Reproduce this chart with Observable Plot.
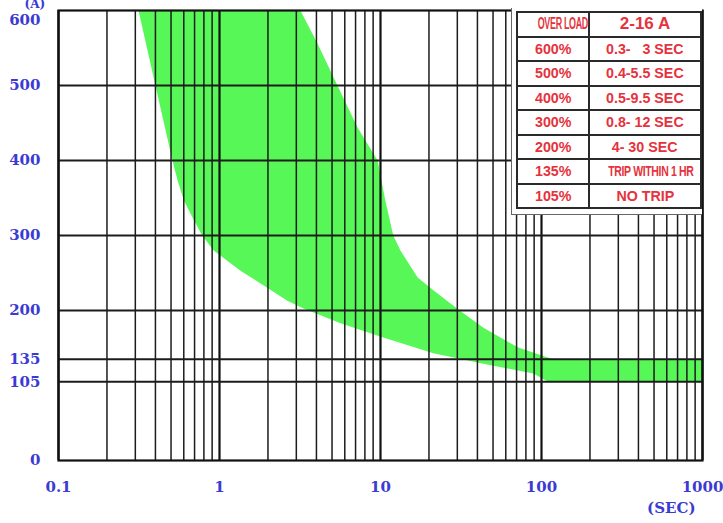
<!DOCTYPE html>
<html>
<head>
<meta charset="utf-8">
<script src="https://cdn.jsdelivr.net/npm/d3@7"></script>
<script src="https://cdn.jsdelivr.net/npm/@observablehq/plot@0.6"></script>
<style>
  html, body { margin: 0; padding: 0; background: #fff; }
  #wrap { position: relative; width: 723px; height: 523px; overflow: hidden; }
  #tblbox { position: absolute; left: 511px; top: 8px; width: 191px; height: 207px; background: #fff;
            border-left: 1px solid #666; border-bottom: 1px solid #666; box-sizing: border-box; }
  #tbl { position: absolute; left: 4px; top: 3px; width: 184px; border-collapse: collapse; table-layout: fixed; background: #fff; }
  #tbl td { border: 2px solid #2a2a2a; height: 22.5px; padding: 0; text-align: center; color: #e6323c;
            font-family: "Liberation Sans Narrow", "Liberation Sans", Arial, sans-serif; font-weight: bold;
            font-size: 15px; white-space: pre; overflow: visible; line-height: 20px; }
  #tbl td span { display: inline-block; transform-origin: center; }
</style>
</head>
<body>
<div id="wrap"></div>
<script>
// ---- data ----
const xTickValues = [0.1, 1, 10, 100, 1000];
const yTickValues = [0, 105, 135, 200, 300, 400, 500];
const yTopTick = [600];
const yGridValues = [105, 135, 200, 300, 400, 500];
const decades = [0.1, 1, 10, 100];
const multipliers = [1, 2, 3, 4, 5, 6, 7, 8, 9];

// fast (lower-left) edge of the trip band: time (s), current (%)
const lowerTime = [0.314, 0.40, 0.51, 0.55, 0.60, 0.68, 0.78, 0.92, 1.35, 1.8, 2.64, 3.3, 5.65, 10.4, 21.3, 43.6, 89, 110, 1000];
const lowerAmp  = [600,   500,  400,  373,  347,  324,  300,  280,  253,  236, 213,  203, 183,  164,  143,  129,  116, 105, 105];
// slow (upper-right) edge of the trip band
const upperTime = [3.18, 4.06, 5.4, 7.2, 9.6, 10.7, 12, 13.3, 17, 21.3, 31, 43.6, 71, 114, 150, 1000];
const upperAmp  = [600,  556,  500, 444, 400, 347,  300, 280, 244, 227, 200, 177, 151, 136, 135, 135];

// table
const overloadPct = ["OVER LOAD", "600%", "500%", "400%", "300%", "200%", "135%", "105%"];
const tripTime = ["2-16 A", "0.3-   3 SEC", "0.4-5.5 SEC", "0.5-9.5 SEC", "0.8- 12 SEC", "4- 30 SEC", "TRIP WITHIN 1 HR", "NO TRIP"];

// ---- derived ----
const band = [
  ...lowerTime.map((t, i) => ({t, a: lowerAmp[i]})),
  ...upperTime.map((t, i) => ({t, a: upperAmp[i]})).reverse()
];
const xGrid = [];
for (const d of decades) for (const m of multipliers) xGrid.push({v: d * m, major: m === 1});
xGrid.push({v: 1000, major: true});

const blue = "#3b3bd4";
const chart = Plot.plot({
  width: 723,
  height: 523,
  marginLeft: 58,
  marginRight: 21,
  marginTop: 10,
  marginBottom: 63,
  x: {type: "log", domain: [0.1, 1000]},
  y: {domain: [0, 600]},
  style: {background: "#fff", color: blue, fontFamily: "'DejaVu Serif', serif", fontWeight: "bold", fontSize: "15px", overflow: "visible"},
  marks: [
    Plot.line(band, {x: "t", y: "a", fill: "#57f757", stroke: "none", curve: "linear", clip: true}),
    Plot.ruleX(xGrid.filter(d => !d.major), {x: "v", stroke: "#1c1c1c", strokeWidth: 1.5}),
    Plot.ruleX(xGrid.filter(d => d.major), {x: "v", stroke: "#111", strokeWidth: 2.2}),
    Plot.ruleY(yGridValues, {stroke: "#1c1c1c", strokeWidth: 2.2}),
    Plot.frame({stroke: "#111", strokeWidth: 2.2}),
    Plot.axisX(xTickValues, {label: null, tickSize: 0, tickPadding: 21, tickFormat: d => String(d), fontSize: 15, fontWeight: "bold"}),
    Plot.axisY(yTickValues, {label: null, tickSize: 0, tickPadding: 18, tickFormat: d => String(d), fontSize: 15, fontWeight: "bold"}),
    Plot.axisY(yTopTick, {label: null, tickSize: 0, tickPadding: 18, tickFormat: d => String(d), fontSize: 15, fontWeight: "bold", dy: 10}),
    Plot.text(["(SEC)"], {frameAnchor: "bottom-right", dx: -7, dy: 52, fontSize: 15, fontWeight: "bold", fill: blue}),
    Plot.text(["(A)"], {frameAnchor: "top-left", dx: -34, dy: -11, fontSize: 12, fontWeight: "bold", fill: blue})
  ]
});
const wrap = document.getElementById("wrap");
wrap.appendChild(chart);

// ---- overload table ----
const box = document.createElement("div");
box.id = "tblbox";
const tbl = document.createElement("table");
tbl.id = "tbl";
const cg = document.createElement("colgroup");
[72, 112].forEach(w => { const c = document.createElement("col"); c.style.width = w + "px"; cg.appendChild(c); });
tbl.appendChild(cg);
overloadPct.forEach((p, i) => {
  const tr = document.createElement("tr");
  const td1 = document.createElement("td");
  const s1 = document.createElement("span");
  s1.textContent = p;
  if (i === 0) { s1.style.transform = "scaleX(0.56)"; s1.style.fontSize = "16px"; s1.style.letterSpacing = "-0.6px"; }
  else { s1.style.transform = "scaleX(0.95)"; }
  td1.appendChild(s1);
  const td2 = document.createElement("td");
  const s2 = document.createElement("span");
  s2.textContent = tripTime[i];
  if (i === 0) { s2.style.fontSize = "17px"; }
  else if (i === 6) { s2.style.transform = "scaleX(0.7)"; s2.style.letterSpacing = "-0.5px"; }
  else { s2.style.transform = "scaleX(0.95)"; }
  td2.appendChild(s2);
  tr.appendChild(td1);
  tr.appendChild(td2);
  tbl.appendChild(tr);
});
box.appendChild(tbl);
wrap.appendChild(box);
</script>
</body>
</html>
